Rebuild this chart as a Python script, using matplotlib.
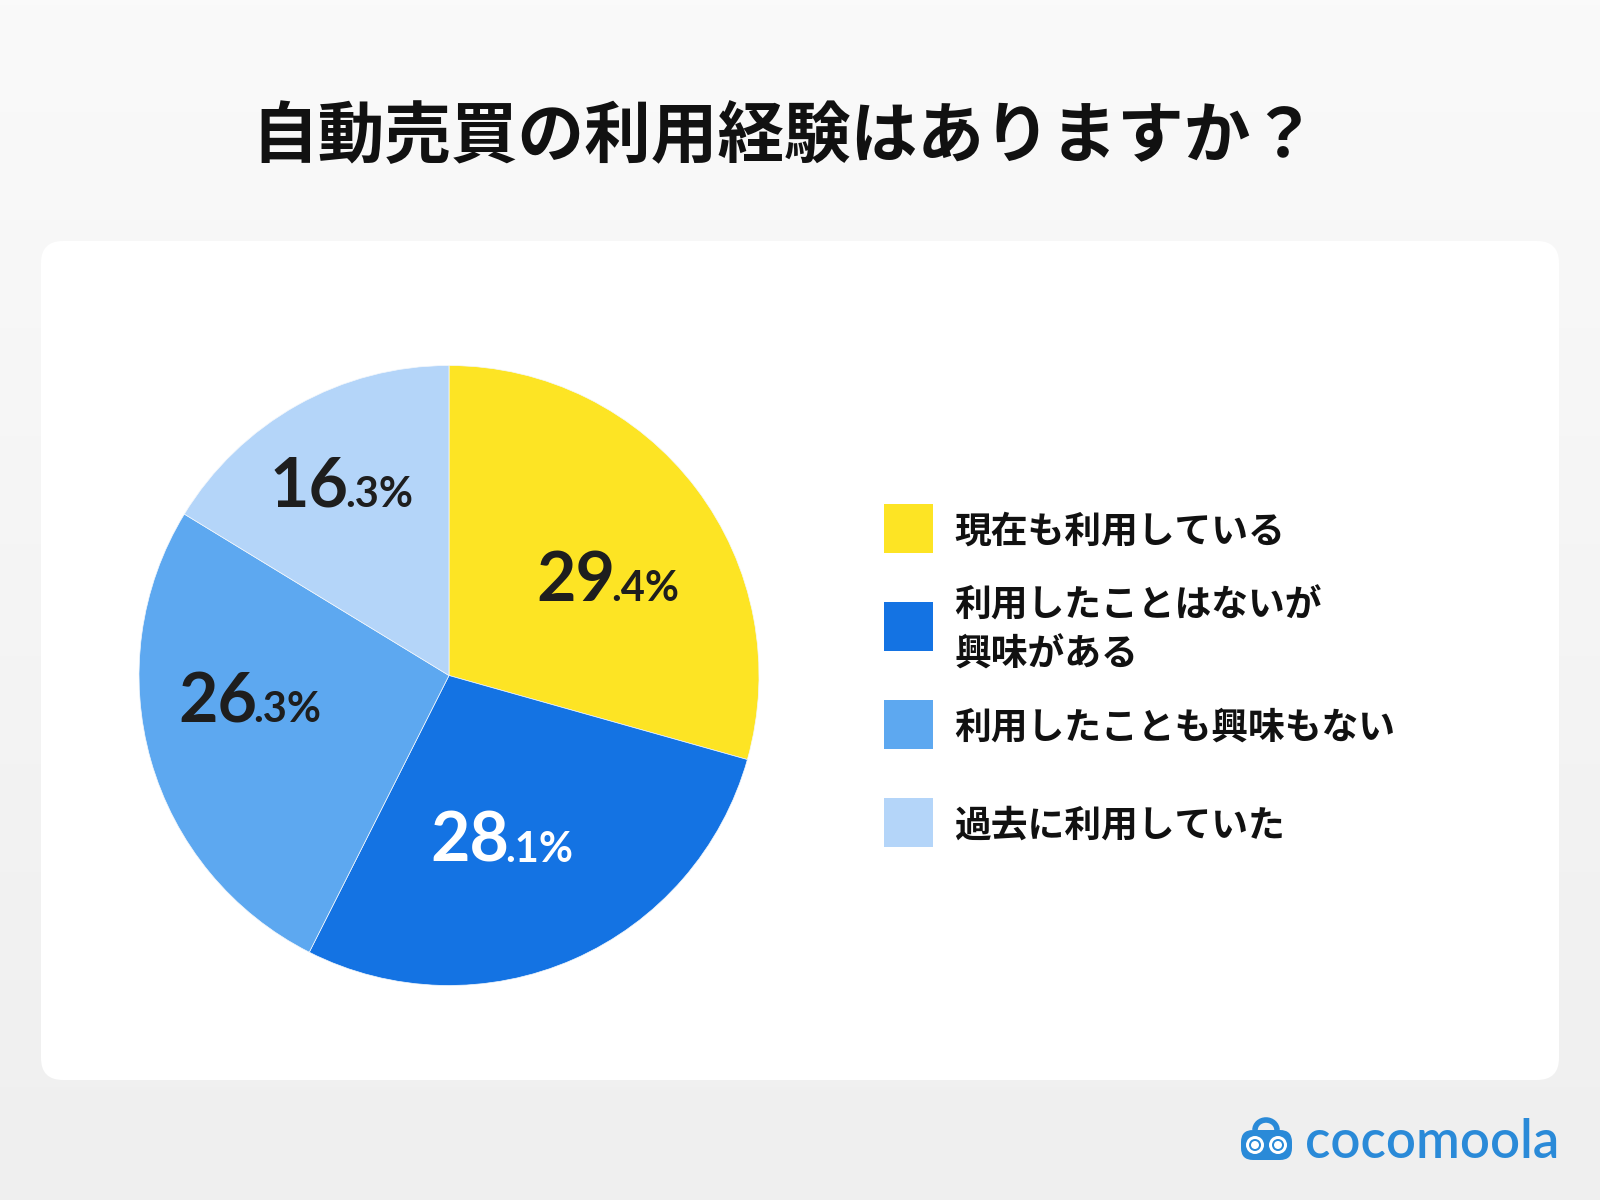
import numpy as np
import matplotlib.pyplot as plt
from matplotlib.patches import FancyBboxPatch, Rectangle, Circle, Arc
from matplotlib.colors import LinearSegmentedColormap

plt.rcParams['font.family'] = ['Noto Sans CJK JP', 'DejaVu Sans']

title = '自動売買の利用経験はありますか？'
categories = ['現在も利用している', '利用したことはないが\n興味がある',
              '利用したことも興味もない', '過去に利用していた']
values = [29.4, 28.1, 26.3, 16.3]
colors = ['#FDE424', '#1473E3', '#5DA8F0', '#B4D5F9']
label_colors = ['#1E1E1E', '#FFFFFF', '#1E1E1E', '#1E1E1E']
# label placement inside each wedge (radius fraction, angle shift in degrees)
label_r = [0.61, 0.55, 0.64, 0.71]
label_shift = [-5.4, -5.1, -9.5, -0.6]

fig = plt.figure(figsize=(16, 12), dpi=100)

# background in pixel coordinates (y down)
bg = fig.add_axes([0, 0, 1, 1])
grad = np.linspace(0, 1, 256).reshape(-1, 1)
cmap = LinearSegmentedColormap.from_list('bg', ['#FAFAFA', '#EFEFEF'])
bg.imshow(grad, extent=[0, 1600, 1200, 0], cmap=cmap, aspect='auto', zorder=0)
bg.set_xlim(0, 1600)
bg.set_ylim(1200, 0)
bg.axis('off')

card = FancyBboxPatch((41, 241), 1518, 839, boxstyle='round,pad=0,rounding_size=22',
                      fc='white', ec='none', zorder=1)
bg.add_patch(card)

bg.text(784, 138, title, ha='center', va='center', fontsize=48,
        fontweight='bold', color='#111111', zorder=2)

# legend
for i, (cat, col) in enumerate(zip(categories, colors)):
    yc = 528.5 + i * 98
    bg.add_patch(Rectangle((884, yc - 24.5), 49, 49, fc=col, ec='none', zorder=2))
    bg.text(954, yc + 4, cat, ha='left', va='center', fontsize=26.5, fontweight='bold',
            color='#111111', linespacing=1.4, zorder=2)

# logo
logo_col = '#2A8AD8'
bg.add_patch(FancyBboxPatch((1241, 1130), 51, 30, boxstyle='round,pad=0,rounding_size=12',
                            fc=logo_col, ec='none', zorder=2))
bg.add_patch(Arc((1266, 1130), 22, 20, theta1=180, theta2=360, color=logo_col, lw=4, zorder=2))
for cx in (1255, 1278):
    bg.add_patch(Circle((cx, 1145), 9, fc='white', ec='none', zorder=3))
    bg.add_patch(Circle((cx, 1145), 6, fc=logo_col, ec='none', zorder=4))
    bg.add_patch(Circle((cx, 1145), 4, fc='white', ec='none', zorder=5))
bg.text(1559, 1143, 'cocomoola', ha='right', va='center', fontsize=38,
        family=['Lato', 'DejaVu Sans'], fontweight='semibold', color=logo_col, zorder=2)

# pie
R = 310
ax = fig.add_axes([(449 - R) / 1600, (1200 - 675.5 - R) / 1200, 2 * R / 1600, 2 * R / 1200])
wedges, _ = ax.pie(values, colors=colors, startangle=90, counterclock=False,
                   radius=1, wedgeprops=dict(edgecolor='#F4F8FC', linewidth=0.5))
ax.set_xlim(-1, 1)
ax.set_ylim(-1, 1)
ax.axis('off')

renderer = fig.canvas.get_renderer()
big_pt, small_pt = 49, 30
for w, v, tc, r, sh in zip(wedges, values, label_colors, label_r, label_shift):
    ang = np.deg2rad((w.theta1 + w.theta2) / 2 + sh)
    cx, cy = r * np.cos(ang), r * np.sin(ang)
    whole, dec = f'{v:.1f}'.split('.')
    tb = ax.text(0, 0, whole, ha='left', va='baseline', fontsize=big_pt,
                 family=['Lato', 'DejaVu Sans'], fontweight='bold', color=tc)
    ts = ax.text(0, 0, '.' + dec + '%', ha='left', va='baseline', fontsize=small_pt,
                 family=['Lato', 'DejaVu Sans'], fontweight='bold', color=tc)
    wb = tb.get_window_extent(renderer).width / R
    ws = ts.get_window_extent(renderer).width / R
    x0 = cx - (wb + ws) / 2
    base = cy - (0.72 * big_pt * 100 / 72 / 2) / R
    tb.set_position((x0, base))
    ts.set_position((x0 + wb - 0.012, base))

fig.savefig('out.png', dpi=100)
